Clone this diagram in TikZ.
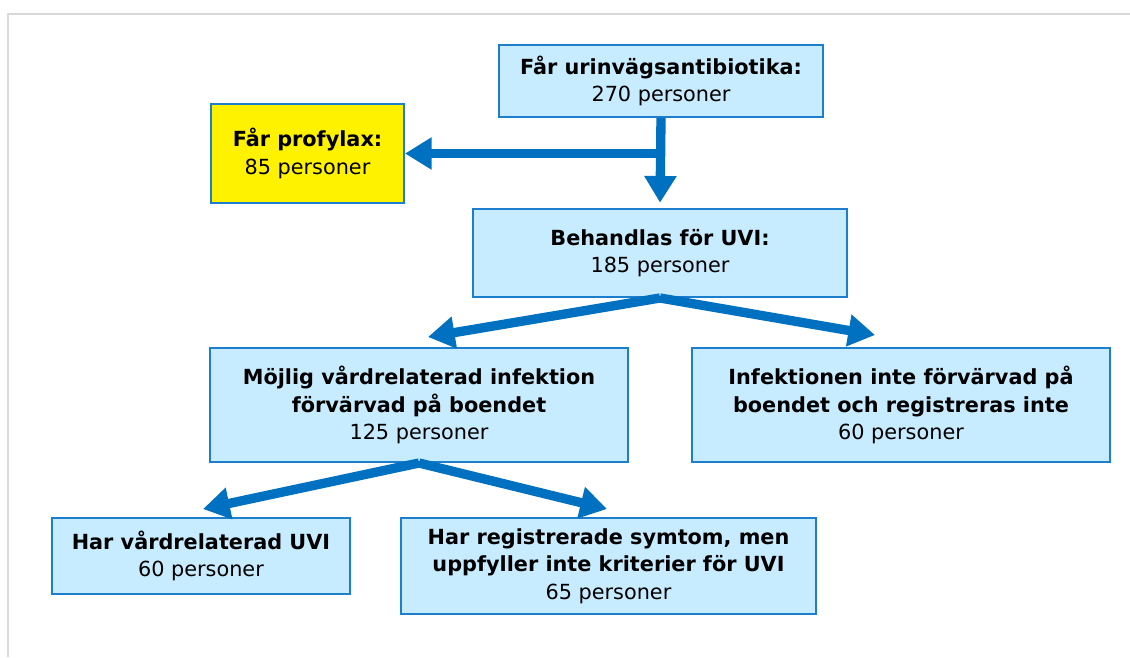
\documentclass[tikz,border=0pt]{standalone}
\usepackage{fontspec}
\setmainfont{DejaVu Sans}
\usetikzlibrary{arrows.meta}

\definecolor{boxblue}{RGB}{200,236,255}
\definecolor{edgeblue}{RGB}{30,126,206}
\definecolor{arrowblue}{RGB}{0,112,192}
\definecolor{framegray}{RGB}{217,217,217}

\tikzset{
	infobox/.style={draw=edgeblue, line width=1.5pt, fill=boxblue, align=center,
		inner sep=0pt, font=\fontsize{15.6}{20.8}\selectfont},
	flow/.style={draw=arrowblue, line width=7pt, -{Triangle[width=23pt,length=20pt]}},
}

\begin{document}
\begin{tikzpicture}[x=0.75pt, y=-0.75pt]
		\useasboundingbox (0,0) rectangle (1130,657);
		\draw[framegray, line width=1.5pt] (8,657) -- (8,14) -- (1130,14);

		\node[infobox, minimum width=243pt, minimum height=54pt] (uab) at (661,81)
			{\textbf{Får urinvägsantibiotika:}\\270 personer};
		\node[infobox, fill=yellow, minimum width=144.75pt, minimum height=74.25pt] (prof) at (307.5,153.5)
			{\textbf{Får profylax:}\\85 personer};
		\node[infobox, minimum width=280.5pt, minimum height=66pt] (beh) at (660,253)
			{\textbf{Behandlas för UVI:}\\185 personer};
		\node[infobox, minimum width=313.5pt, minimum height=85.5pt] (moj) at (419,405)
			{\textbf{Möjlig vårdrelaterad infektion}\\\textbf{förvärvad på boendet}\\125 personer};
		\node[infobox, minimum width=313.5pt, minimum height=85.5pt] (inf) at (901,405)
			{\textbf{Infektionen inte förvärvad på}\\\textbf{boendet och registreras inte}\\60 personer};
		\node[infobox, minimum width=223.5pt, minimum height=57pt] (harv) at (201,556)
			{\textbf{Har vårdrelaterad UVI}\\60 personer};
		\node[infobox, minimum width=311.25pt, minimum height=72pt] (harr) at (608.5,566)
			{\textbf{Har registrerade symtom, men}\\\textbf{uppfyller inte kriterier för UVI}\\65 personer};

		% arrow ends
		\coordinate (mojtip) at (428,337);
		\coordinate (inftip) at (875,335);
		\coordinate (harvtip) at (203,509);
		\coordinate (harrtip) at (607,509);

		\draw[flow, shorten >=4pt] (uab.south) -- (beh.north);
		\draw[flow] (uab.south |- prof.east) -- (prof.east);

		\draw[flow] (beh.south) -- (mojtip);
		\draw[flow] (beh.south) -- (inftip);

		\draw[flow] (moj.south) -- (harvtip);
		\draw[flow] (moj.south) -- (harrtip);
	\end{tikzpicture}
\end{document}
